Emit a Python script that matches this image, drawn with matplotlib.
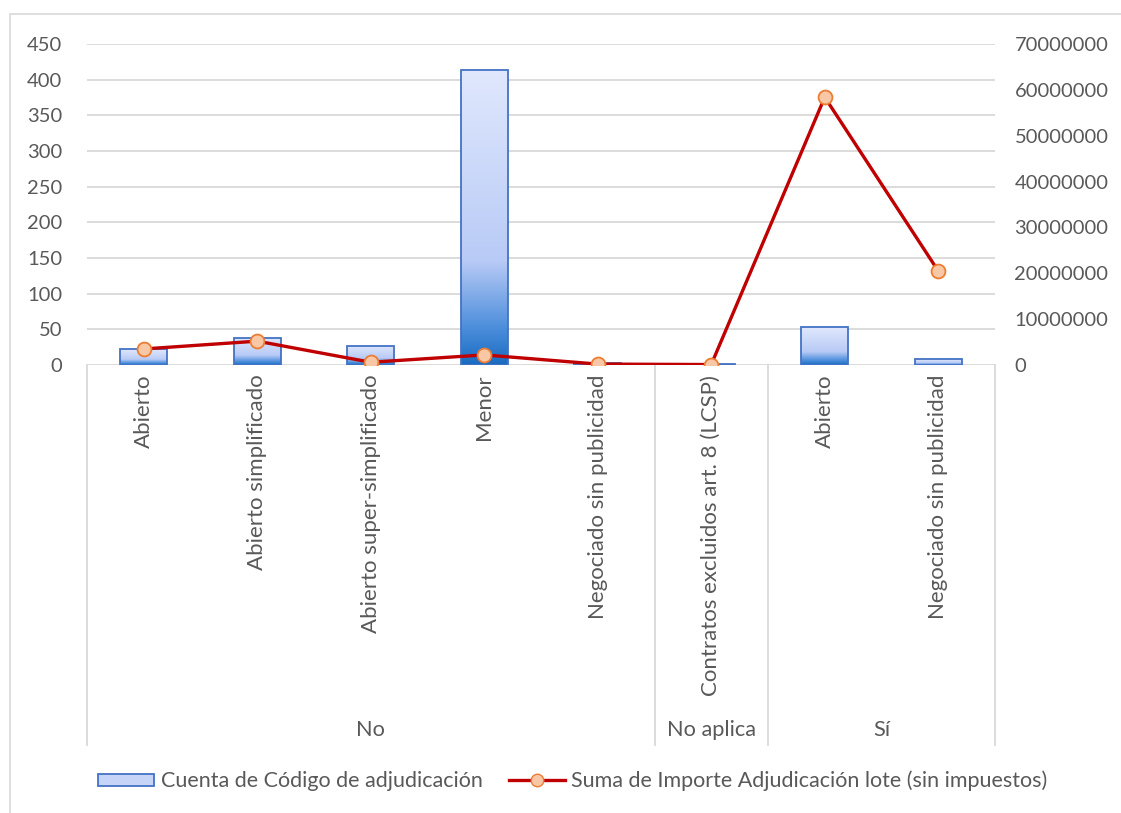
import numpy as np
import matplotlib.pyplot as plt
from matplotlib.colors import LinearSegmentedColormap
from matplotlib.patches import Rectangle
from matplotlib.lines import Line2D

plt.rcParams['font.family'] = ['Lato', 'DejaVu Sans']

# data
categorias = ['Abierto', 'Abierto simplificado', 'Abierto super-simplificado', 'Menor',
              'Negociado sin publicidad', 'Contratos excluidos art. 8 (LCSP)',
              'Abierto', 'Negociado sin publicidad']
grupos = ['No', 'No aplica', 'Sí']
grupo_n = [5, 1, 2]
cuenta = [22, 38, 27, 414, 3, 1, 53, 8]
importe = [3500000, 5200000, 600000, 2200000, 200000, 100000, 58400000, 20500000]

gris = '#595959'
grid_c = '#d9d9d9'

fig = plt.figure(figsize=(11.21, 8.13), dpi=100)
ax = fig.add_axes([87 / 1121, 1 - 365 / 813, (995 - 87) / 1121, (365 - 44) / 813])
ax2 = ax.twinx()

x = np.arange(len(categorias))
ancho = 0.41

# gradient like the excel fill
cmap = LinearSegmentedColormap.from_list('excel', [(0, '#1a6cc0'), (0.12, '#4a8ddb'),
                                                     (0.35, '#b8caf6'), (1, '#e0e8fd')])
grad = np.linspace(0, 1, 256).reshape(-1, 1)
bars = ax.bar(x, cuenta, width=ancho, facecolor='none', edgecolor='#4472c4', linewidth=1.3, zorder=3)
for b in bars:
    x0, w, h = b.get_x(), b.get_width(), b.get_height()
    im = ax.imshow(grad, cmap=cmap, origin='lower', aspect='auto',
                   extent=(x0, x0 + w, 0, h), zorder=2)
    im.set_clip_path(b)

ax2.plot(x, importe, color='#c00000', linewidth=2.4, marker='o', markersize=10,
         markerfacecolor='#f8c7a6', markeredgecolor='#ed7d31', markeredgewidth=1.3, zorder=4)

ax.set_xlim(-0.5, len(categorias) - 0.5)
ax.set_ylim(0, 450)
ax.set_yticks(range(0, 451, 50))
ax2.set_ylim(0, 70000000)
ax2.set_yticks(range(0, 70000001, 10000000))
ax2.set_yticklabels([str(v) for v in range(0, 70000001, 10000000)])
ax.grid(axis='y', color=grid_c, linewidth=1.3)
ax.set_axisbelow(True)

for a in (ax, ax2):
    for s in a.spines.values():
        s.set_visible(False)
    a.tick_params(length=0, labelsize=14.5, colors=gris)
ax.tick_params(axis='y', pad=18)
ax2.tick_params(axis='y', pad=14)

ax.set_xticks(x)
ax.set_xticklabels(categorias, rotation=90, ha='center', va='top', fontsize=16)
ax.tick_params(axis='x', pad=7)

# multi level axis separators and group names
trans = ax.get_xaxis_transform()
low = -(745 - 365) / (365 - 44)
bordes = [-0.5]
for n in grupo_n:
    bordes.append(bordes[-1] + n)
for b in bordes:
    ax.plot([b, b], [0, low], transform=trans, color=grid_c, linewidth=1.3, clip_on=False)
for i, g in enumerate(grupos):
    xc = (bordes[i] + bordes[i + 1]) / 2
    ax.text(xc, -(730 - 365) / (365 - 44), g, transform=trans, ha='center', va='center',
            fontsize=15.7, color=gris)

# outer chart border
fig.patches.append(Rectangle((10 / 1121, -0.01), 1.02, 1 - 14 / 813 + 0.01,
                             transform=fig.transFigure, fill=False, edgecolor=grid_c, linewidth=1.2))

handles = [Rectangle((0, 0), 1, 1, facecolor='#c6d4f8', edgecolor='#4472c4', linewidth=1.3),
           Line2D([], [], color='#c00000', linewidth=2.4, marker='o', markersize=9,
                  markerfacecolor='#f8c7a6', markeredgecolor='#ed7d31')]
fig.legend(handles, ['Cuenta de Código de adjudicación',
                     'Suma de Importe Adjudicación lote (sin impuestos)'],
           loc='center', bbox_to_anchor=(0.511, 1 - 781 / 813), ncol=2, frameon=False,
           fontsize=15.5, labelcolor=gris, handlelength=2.6, handleheight=0.5,
           handletextpad=0.3, columnspacing=1.2)

fig.savefig('out.png', dpi=100)
